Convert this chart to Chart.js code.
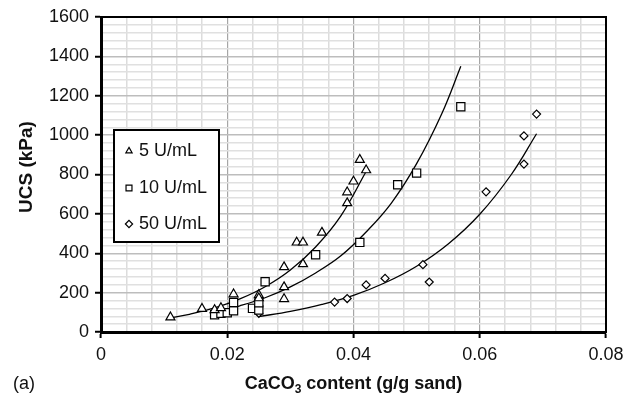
<!DOCTYPE html>
<html lang="en">
<head>
<meta charset="UTF-8">
<title>UCS vs CaCO3 content</title>
<script src="https://cdn.jsdelivr.net/npm/chart.js@4.4.1/dist/chart.umd.min.js"></script>
<style>
  html, body { margin: 0; padding: 0; background: #fff; }
  #wrap { width: 624px; height: 401px; }
</style>
</head>
<body>
<div id="wrap"><canvas id="ucsChart" width="624" height="401"></canvas></div>
<script>
var u5Content  = [0.011, 0.016, 0.018, 0.019, 0.021, 0.025, 0.025, 0.029, 0.029, 0.029, 0.031, 0.032, 0.032, 0.035, 0.039, 0.039, 0.040, 0.041, 0.042];
var u5Ucs      = [75, 118, 112, 122, 192, 188, 172, 330, 228, 168, 455, 455, 345, 505, 655, 710, 765, 875, 822];
var u10Content = [0.018, 0.019, 0.020, 0.021, 0.021, 0.024, 0.025, 0.025, 0.026, 0.034, 0.041, 0.047, 0.050, 0.057];
var u10Ucs     = [88, 95, 98, 108, 150, 120, 112, 148, 255, 392, 455, 748, 807, 1144];
var u50Content = [0.025, 0.037, 0.039, 0.042, 0.045, 0.051, 0.052, 0.061, 0.067, 0.067, 0.069];
var u50Ucs     = [95, 152, 170, 239, 272, 342, 254, 712, 853, 996, 1107];

// trend curves, points
var fit5Content  = [0.011, 0.014, 0.018, 0.022, 0.026, 0.030, 0.034, 0.038, 0.042];
var fit5Ucs      = [72, 90, 122, 168, 230, 315, 432, 590, 815];
var fit10Content = [0.018, 0.022, 0.026, 0.030, 0.034, 0.038, 0.042, 0.046, 0.050, 0.054, 0.057];
var fit10Ucs     = [100, 133, 174, 229, 300, 387, 508, 655, 855, 1110, 1350];
var fit50Content = [0.025, 0.030, 0.035, 0.040, 0.045, 0.050, 0.055, 0.060, 0.065, 0.069];
var fit50Ucs     = [78, 105, 140, 186, 250, 334, 447, 598, 800, 1007];

var seriesLabels = ['5 U/mL', '10 U/mL', '50 U/mL'];
var xTickLabels = ['0', '0.02', '0.04', '0.06', '0.08'];

function pts(xs, ys) {
  return xs.map(function (x, i) { return { x: x, y: ys[i] }; });
}
function isMajor(v, step) {
  var r = v / step;
  return Math.abs(r - Math.round(r)) < 1e-6;
}

var FONT = "'Liberation Sans', Arial, sans-serif";

var framePlugin = {
  id: 'frame',
  afterDraw: function (chart) {
    var c = chart.ctx, a = chart.chartArea;
    c.save();
    // plot frame
    c.strokeStyle = '#000';
    c.lineWidth = 2;
    c.strokeRect(a.left, a.top, a.right - a.left, a.bottom - a.top);

    // legend box
    c.fillStyle = '#fff';
    c.fillRect(114, 130, 105, 112);
    c.lineWidth = 2;
    c.strokeRect(114, 130, 105, 112);
    var rows = [150, 187, 223];
    var styles = [['triangle', 3.6], ['rect', 4.2], ['rectRot', 3.6]];
    c.font = '18px ' + FONT;
    c.textBaseline = 'middle';
    c.textAlign = 'left';
    for (var i = 0; i < 3; i++) {
      c.strokeStyle = '#000';
      c.fillStyle = '#fff';
      c.lineWidth = 1.2;
      Chart.helpers.drawPoint(c, { pointStyle: styles[i][0], radius: styles[i][1], borderWidth: 1.2 }, 129, rows[i] + 1);
      c.fillStyle = '#111';
      c.fillText(seriesLabels[i], 139, rows[i] + 1);
    }

    // axis titles
    c.fillStyle = '#111';
    c.font = 'bold 18px ' + FONT;
    var p1 = 'CaCO', p2 = '3', p3 = ' content (g/g sand)';
    var w1 = c.measureText(p1).width, w3 = c.measureText(p3).width;
    c.font = 'bold 12px ' + FONT;
    var w2 = c.measureText(p2).width;
    var cx = (a.left + a.right) / 2;
    var x0 = cx - (w1 + w2 + w3) / 2, ty = 384;
    c.font = 'bold 18px ' + FONT;
    c.fillText(p1, x0, ty);
    c.font = 'bold 12px ' + FONT;
    c.fillText(p2, x0 + w1, ty + 6);
    c.font = 'bold 18px ' + FONT;
    c.fillText(p3, x0 + w1 + w2, ty);

    c.font = '18px ' + FONT;
    c.fillText('(a)', 13, ty);

    c.save();
    c.translate(27, 167);
    c.rotate(-Math.PI / 2);
    c.textAlign = 'center';
    c.font = 'bold 19px ' + FONT;
    c.fillText('UCS (kPa)', 0, 0);
    c.restore();
    c.restore();
  }
};

var markerBase = {
  type: 'scatter',
  showLine: false,
  borderColor: '#000',
  backgroundColor: '#fff',
  borderWidth: 1.2,
  order: 1
};
var curveBase = {
  type: 'scatter',
  showLine: true,
  borderColor: '#000',
  borderWidth: 1.3,
  pointRadius: 0,
  tension: 0.4,
  fill: false,
  order: 2
};

var ctx = document.getElementById('ucsChart').getContext('2d');
new Chart(ctx, {
  type: 'scatter',
  data: {
    datasets: [
      Object.assign({}, curveBase, { label: 'fit 5', data: pts(fit5Content, fit5Ucs) }),
      Object.assign({}, curveBase, { label: 'fit 10', data: pts(fit10Content, fit10Ucs) }),
      Object.assign({}, curveBase, { label: 'fit 50', data: pts(fit50Content, fit50Ucs) }),
      Object.assign({}, markerBase, { label: seriesLabels[0], data: pts(u5Content, u5Ucs), pointStyle: 'triangle', pointRadius: 5.2 }),
      Object.assign({}, markerBase, { label: seriesLabels[1], data: pts(u10Content, u10Ucs), pointStyle: 'rect', pointRadius: 5.8 }),
      Object.assign({}, markerBase, { label: seriesLabels[2], data: pts(u50Content, u50Ucs), pointStyle: 'rectRot', pointRadius: 4 })
    ]
  },
  options: {
    responsive: false,
    animation: false,
    layout: { padding: { left: 0, top: 17, right: 18, bottom: 0 } },
    plugins: { legend: { display: false }, tooltip: { enabled: false } },
    scales: {
      x: {
        type: 'linear',
        min: 0, max: 0.08,
        afterFit: function (s) { s.height = 69; s.paddingLeft = 0; s.paddingRight = 0; },
        ticks: {
          stepSize: 0.004,
          autoSkip: false,
          maxRotation: 0,
          padding: 6,
          color: '#111',
          font: { size: 18, family: FONT },
          callback: function (v) {
            if (!isMajor(v, 0.02)) return '';
            return xTickLabels[Math.round(v / 0.02)];
          }
        },
        grid: {
          color: function (c) { return isMajor(c.tick.value, 0.02) ? '#a6a6a6' : '#dcdcdc'; },
          lineWidth: function (c) { return isMajor(c.tick.value, 0.02) ? 1.2 : 1.5; },
          tickColor: function (c) { return isMajor(c.tick.value, 0.02) ? '#000' : 'rgba(0,0,0,0)'; },
          tickLength: 6,
          tickWidth: 2
        },
        border: { color: '#000', width: 3 }
      },
      y: {
        type: 'linear',
        min: 0, max: 1600,
        afterFit: function (s) { s.width = 101; s.paddingTop = 0; s.paddingBottom = 0; },
        ticks: {
          stepSize: 40,
          autoSkip: false,
          padding: 6,
          color: '#111',
          font: { size: 18, family: FONT },
          callback: function (v) { return isMajor(v, 200) ? String(v) : ''; }
        },
        grid: {
          color: function (c) { return isMajor(c.tick.value, 200) ? '#bdbdbd' : '#e0e0e0'; },
          lineWidth: 1.5,
          tickColor: function (c) { return isMajor(c.tick.value, 200) ? '#000' : 'rgba(0,0,0,0)'; },
          tickLength: 6,
          tickWidth: 2
        },
        border: { color: '#000', width: 3 }
      }
    }
  },
  plugins: [framePlugin]
});
</script>
</body>
</html>
